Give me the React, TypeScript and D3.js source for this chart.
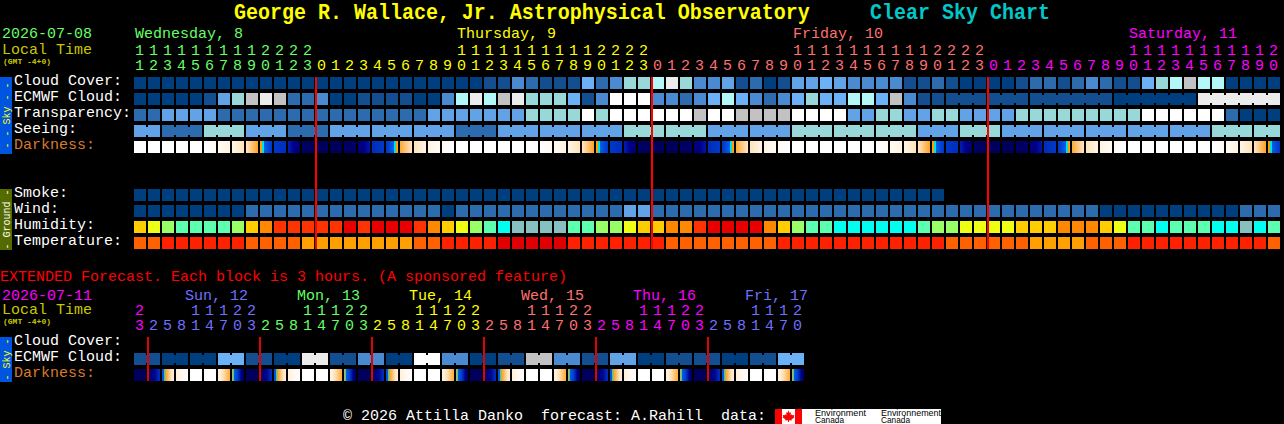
import React from "react";
import * as d3 from "d3";

const titleLeft = "George R. Wallace, Jr. Astrophysical Observatory";
const titleRight = "Clear Sky Chart";
const rowLabels = ["Cloud Cover:", "ECMWF Cloud:", "Transparency:", "Seeing:", "Darkness:"];
const groundLabels = ["Smoke:", "Wind:", "Humidity:", "Temperature:"];
const extLabels = ["Cloud Cover:", "ECMWF Cloud:", "Darkness:"];

const skyPalette = ["#003f7f", "#134f90", "#2c6bad", "#4a8ad0", "#62a2e6", "#6cb0f5", "#98d8d8", "#b3f8f8", "#c2c2c2", "#ececec", "#ffffff"];
const humidityPalette = ["#e80000", "#ff3300", "#ff8800", "#ffcc00", "#eeff14", "#99ff66", "#5cffb0", "#00ffee", "#88c0c0"];
const tempPalette = ["#e00000", "#ff2000", "#ff6000", "#ffa000"];

const hours = [11,12,13,14,15,16,17,18,19,20,21,22,23,
  0,1,2,3,4,5,6,7,8,9,10,11,12,13,14,15,16,17,18,19,20,21,22,23,
  0,1,2,3,4,5,6,7,8,9,10,11,12,13,14,15,16,17,18,19,20,21,22,23,
  0,1,2,3,4,5,6,7,8,9,10,11,12,13,14,15,16,17,18,19,20];

const cloudCover = [0,0,0,0,0,0,0,0,0,0,0,0,0,0,0,0,0,0,0,0,0,0,0,0,0,1,1,3,2,1,1,1,5,2,3,6,6,7,9,6,3,3,4,1,2,0,1,4,4,5,4,3,3,3,3,1,1,2,1,0,0,0,0,1,2,2,1,2,3,2,1,1,5,6,7,8,7,7,0,0,0,0];
const ecmwfCloud = [0,0,0,0,0,1,4,6,8,9,8,2,2,3,0,0,1,1,1,1,0,0,3,7,9,7,8,9,6,6,6,5,1,3,10,10,10,3,3,2,3,5,7,5,3,2,3,5,6,5,5,7,7,5,8,3,1,1,1,1,1,1,1,1,1,1,1,1,1,1,0,0,0,0,0,0,9,9,9,9,9,9];
const ecmwfRuns = [1,1,1,1,1,1,1,1,1,1,1,1,1,1,1,1,1,1,1,1,1,1,1,1,1,1,1,1,1,1,1,1,1,1,1,1,1,1,1,1,1,1,1,1,1,1,1,1,1,1,1,1,1,1,1,1,1,1,3,3,6,6,6];
const transparency = [2,2,4,4,4,4,2,2,2,2,2,2,2,2,2,2,2,2,2,2,2,4,4,4,4,4,4,4,6,6,6,6,10,6,10,10,10,10,10,10,8,10,10,8,8,8,8,10,10,10,10,4,4,6,6,4,4,6,6,4,4,4,4,6,6,6,6,6,6,6,6,6,10,10,10,10,10,10,2,0,0,0];
const seeing = [4,4,2,2,2,6,6,6,4,4,4,2,2,2,4,4,4,4,4,4,4,4,4,2,2,2,4,4,4,4,4,4,4,4,4,6,6,6,6,6,6,4,4,4,4,4,4,6,6,6,6,6,6,6,6,6,4,4,4,6,6,6,4,4,4,4,4,4,4,4,4,4,4,4,4,4,4,6,6,6,6,6];
const seeingRuns = [2,3,3,3,3,3,3,3,3,3,3,3,3,3,3,3,3,3,3,3,3,3,3,3,3,3,3,2];
const smoke = [0,0,0,0,0,0,0,0,0,0,0,0,0,0,0,0,0,0,0,0,0,0,0,0,0,0,0,0,0,0,0,0,0,0,0,0,0,0,0,0,0,0,0,0,0,0,0,0,0,0,0,0,0,0,0,0,0,0];
const wind = [0,0,0,0,0,0,0,0,2,2,2,2,2,2,2,2,2,2,2,2,2,2,0,2,2,2,2,2,2,2,2,2,2,2,2,4,4,2,2,2,2,2,2,2,2,2,2,2,2,2,2,2,2,2,2,2,2,2,2,2,2,2,2,2,2,2,2,2,2,0,0,0,0,0,0,0,0,0,0,2,2,2];
const humidity = [3,4,5,6,6,6,6,5,3,2,1,1,1,1,1,0,1,0,0,0,1,2,3,4,5,6,7,8,8,8,8,6,6,5,5,4,3,3,2,2,1,0,0,0,0,2,3,5,6,6,7,7,7,7,7,7,6,5,5,4,4,4,4,3,3,3,2,2,2,3,4,6,6,7,6,6,6,7,7,8,7,6];
const temperature = [2,2,1,1,1,1,1,1,2,2,2,2,3,3,3,3,3,3,3,3,2,2,1,1,1,1,0,0,0,0,0,1,1,1,1,1,1,1,2,2,2,2,2,2,2,2,1,1,1,1,1,1,1,1,1,1,1,1,2,2,2,2,2,2,3,3,3,3,2,2,2,1,1,1,1,1,1,1,1,1,1,2];

// darkness level at the start and at the end of each block, one day's course from 11h on
const darkStart = [0,0,0,0,0,0,0.5,1,2,4,6,6.5,7.7,8,8,7.8,7.5,6.2,6,3.6,2,1,0.4,0];
const darkEnd   = [0,0,0,0,0,0.5,1,2,3.8,6,6.2,7.6,8,8,8,7.7,6.6,6,4,2,1,0.4,0,0];

const extHours = [23,2,5,8,11,14,17,20,23,2,5,8,11,14,17,20,23,2,5,8,11,14,17,20,23,2,5,8,11,14,17,20,23,2,5,8,11,14,17,20,23,2,5,8,11,14,17,20];
const extEcmwf = [1,1,0,0,0,0,5,5,1,1,0,0,9,9,1,1,3,3,0,0,10,10,3,3,0,0,1,1,8,8,3,3,1,1,4,4,0,0,1,1,1,1,0,0,1,1,5,5];
const extRuns = [2,2,2,2,2,2,2,2,2,2,2,2,2,2,2,2,2,2,2,2,2,2,2,2];
const extDarkStart = [8,7.8,5.2,1.2,0,0,1,4.1];
const extDarkEnd   = [8,6.2,1.2,0,0,0,3.6,7.8];

const green = "#66ff66", yellow = "#ffff00", salmon = "#ff7070", magenta = "#ff00ff", blue = "#7070ff";
const mainDays = [
  { label: "Wednesday, 8", start: 0, color: green },
  { label: "Thursday, 9", start: 23, color: yellow },
  { label: "Friday, 10", start: 47, color: salmon },
  { label: "Saturday, 11", start: 71, color: magenta },
];
const extDays = [
  { label: "Sun, 12", start: 4, color: blue },
  { label: "Mon, 13", start: 12, color: green },
  { label: "Tue, 14", start: 20, color: yellow },
  { label: "Wed, 15", start: 28, color: salmon },
  { label: "Thu, 16", start: 36, color: magenta },
  { label: "Fri, 17", start: 44, color: blue },
];
const mainHourColors = [green, yellow, salmon, magenta];
const extHourColors = [magenta, blue, green, yellow, salmon, magenta, blue];

const BLOCK = 12, PITCH = 14;
const x = d3.scaleLinear().domain([0, 82]).range([134, 134 + 82 * PITCH]);
const rowY = d3.scaleLinear().domain([0, 1]).range([0, 16]);
const darkness = d3.scaleLinear<string>()
  .domain([0, 1, 2, 3, 4.2, 4.25, 4.6, 4.65, 6, 7, 7.7, 8])
  .range(["#ffffff", "#fff4e4", "#ffe4bc", "#ffc070", "#ff9a00", "#00e0e0", "#00e0e0", "#0060e8", "#0038c8", "#000090", "#000066", "#00005a"])
  .clamp(true);

const FONT = "'Liberation Mono', monospace";
const SIZE = 15;

function Txt({ x: tx, y, fill, children, size = SIZE, weight = "normal" as any, anchor = "start" as any, transform }: any) {
  return <text x={tx} y={y} fill={fill} fontFamily={FONT} fontSize={size} fontWeight={weight} textAnchor={anchor} transform={transform} xmlSpace="preserve" style={{ whiteSpace: "pre" }}>{children}</text>;
}

function Blocks({ values, top, palette, runs }: { values: number[]; top: number; palette: string[]; runs?: number[] }) {
  const ends = new Set<number>();
  if (runs) d3.cumsum(runs).forEach((v) => ends.add(v));
  return (
    <g shapeRendering="crispEdges">
      {values.map((v, i) => (
        <React.Fragment key={i}>
          <rect x={x(i)} y={top} width={BLOCK} height={BLOCK} fill={palette[v]} />
          {runs && !ends.has(i + 1) && i + 1 < values.length && values[i + 1] === v ? (
            <rect x={x(i) + BLOCK} y={top + 2} width={PITCH - BLOCK} height={BLOCK - 4} fill={palette[v]} />
          ) : null}
        </React.Fragment>
      ))}
    </g>
  );
}

function DarkBlocks({ n, top, starts, ends }: { n: number; top: number; starts: number[]; ends: number[] }) {
  const stripes = d3.range(BLOCK);
  return (
    <g shapeRendering="crispEdges">
      {d3.range(n).map((i) => {
        const a = starts[i % starts.length], b = ends[i % ends.length];
        return stripes.map((s) => (
          <rect key={i + "-" + s} x={x(i) + s} y={top} width={1} height={BLOCK} fill={darkness(a + ((b - a) * s) / (BLOCK - 1))} />
        ));
      })}
    </g>
  );
}

function HourDigits({ hrs, dayColors, tensY, unitsY }: { hrs: number[]; dayColors: string[]; tensY: number; unitsY: number }) {
  let day = 0;
  return (
    <g>
      {hrs.map((h, i) => {
        if (i > 0 && h < hrs[i - 1]) day += 1;
        const c = dayColors[day];
        return (
          <React.Fragment key={i}>
            {h >= 10 ? <Txt x={x(i) + 1} y={tensY} fill={c}>{String(Math.floor(h / 10))}</Txt> : null}
            <Txt x={x(i) + 1} y={unitsY} fill={c}>{String(h % 10)}</Txt>
          </React.Fragment>
        );
      })}
    </g>
  );
}

function SideBar({ top, bottom, fill, color, label }: any) {
  const cy = (top + bottom) / 2;
  return (
    <g>
      <rect x={0} y={top} width={12} height={bottom - top} fill={fill} shapeRendering="crispEdges" />
      <Txt x={0} y={0} fill={color} size={10} anchor="middle" transform={`translate(9.5,${cy}) rotate(-90)`}>{label}</Txt>
    </g>
  );
}

const MAIN_TOP = 77, GROUND_TOP = 189, EXT_TOP = 337;

export default function App() {
  const midnights = d3.range(82).filter((i) => hours[i] === 0);
  const extMidnights = d3.range(48).filter((i) => extHours[i] === 2);
  const labelColor = "#ffffff", darkColor = "#d87a30", timeColor = "#c8c800";
  return (
    <svg width={1284} height={424} style={{ position: "absolute", left: 0, top: 0, background: "#000", display: "block" }}>
      <Txt x={0} y={0} fill={yellow} size={20} weight="bold" transform="translate(234,19) scale(1,1.12)">{titleLeft}</Txt>
      <Txt x={0} y={0} fill="#00c8c8" size={20} weight="bold" transform="translate(870,19) scale(1,1.12)">{titleRight}</Txt>

      <Txt x={2} y={38} fill={green}>2026-07-08</Txt>
      <Txt x={2} y={54} fill={timeColor}>Local Time</Txt>
      <Txt x={3} y={64} fill={timeColor} size={8} weight="bold">(GMT -4+0)</Txt>
      {mainDays.map((d) => <Txt key={d.label} x={x(d.start) + 1} y={38} fill={d.color}>{d.label}</Txt>)}
      <HourDigits hrs={hours} dayColors={mainHourColors} tensY={55} unitsY={70} />

      <SideBar top={77} bottom={154} fill="#0055e0" color={yellow} label="- - Sky - -" />
      <SideBar top={189} bottom={250} fill="#556b00" color="#ffffff" label="- Ground -" />
      <SideBar top={337} bottom={382} fill="#0055e0" color={yellow} label="- Sky -" />

      {rowLabels.map((l, k) => <Txt key={l} x={14} y={MAIN_TOP + rowY(k) + 8} fill={k === 4 ? darkColor : labelColor}>{l}</Txt>)}
      {groundLabels.map((l, k) => <Txt key={l} x={14} y={GROUND_TOP + rowY(k) + 8} fill={labelColor}>{l}</Txt>)}

      <Blocks values={cloudCover} top={MAIN_TOP + rowY(0)} palette={skyPalette} />
      <Blocks values={ecmwfCloud} top={MAIN_TOP + rowY(1)} palette={skyPalette} runs={ecmwfRuns} />
      <Blocks values={transparency} top={MAIN_TOP + rowY(2)} palette={skyPalette} />
      <Blocks values={seeing} top={MAIN_TOP + rowY(3)} palette={skyPalette} runs={seeingRuns} />
      <DarkBlocks n={82} top={MAIN_TOP + rowY(4)} starts={darkStart} ends={darkEnd} />

      <Blocks values={smoke} top={GROUND_TOP + rowY(0)} palette={skyPalette} />
      <Blocks values={wind} top={GROUND_TOP + rowY(1)} palette={skyPalette} />
      <Blocks values={humidity} top={GROUND_TOP + rowY(2)} palette={humidityPalette} />
      <Blocks values={temperature} top={GROUND_TOP + rowY(3)} palette={tempPalette} />

      {midnights.map((i) => (
        <rect key={i} x={x(i) - 1} y={77} width={2} height={172} fill="#ff0000" shapeRendering="crispEdges" />
      ))}

      <Txt x={0} y={281} fill="#ff0000">EXTENDED Forecast. Each block is 3 hours. (A sponsored feature)</Txt>

      <Txt x={2} y={300} fill={magenta}>2026-07-11</Txt>
      <Txt x={2} y={314} fill={timeColor}>Local Time</Txt>
      <Txt x={3} y={324} fill={timeColor} size={8} weight="bold">(GMT -4+0)</Txt>
      {extDays.map((d) => <Txt key={d.label} x={x(d.start) - 5} y={300} fill={d.color}>{d.label}</Txt>)}
      <HourDigits hrs={extHours} dayColors={extHourColors} tensY={315} unitsY={330} />

      {extLabels.map((l, k) => <Txt key={l} x={14} y={EXT_TOP + rowY(k) + 8} fill={k === 2 ? darkColor : labelColor}>{l}</Txt>)}
      <Blocks values={extEcmwf} top={EXT_TOP + rowY(1)} palette={skyPalette} runs={extRuns} />
      <DarkBlocks n={48} top={EXT_TOP + rowY(2)} starts={extDarkStart} ends={extDarkEnd} />
      {extMidnights.map((i) => (
        <rect key={i} x={x(i) - 1} y={337} width={2} height={44} fill="#e60000" shapeRendering="crispEdges" />
      ))}

      <Txt x={343} y={420} fill="#ffffff">{"\u00a9 2026 Attilla Danko  forecast: A.Rahill  data:"}</Txt>
      <g shapeRendering="crispEdges">
        <rect x={775} y={409} width={166} height={15} fill="#ffffff" />
        <rect x={775} y={409} width={7} height={15} fill="#ff0000" />
        <rect x={795} y={409} width={7} height={15} fill="#ff0000" />
      </g>
      <path d="M788.5 410.5 l1.2 2.4 1.3 -.6 -.5 3 1.4 -1 .4 1 2 -.3 -.5 1.8 .7 .5 -3 2.3 .3 1 -2.8 -.3 0 1.7 -1 0 0 -1.7 -2.8 .3 .3 -1 -3 -2.3 .7 -.5 -.5 -1.8 2 .3 .4 -1 1.4 1 -.5 -3 1.3 .6z" fill="#ff0000" />
      <g fontFamily="'Liberation Sans', sans-serif" fontSize={8.5} fill="#000">
        <text x={815} y={416} textLength={51} lengthAdjust="spacingAndGlyphs">Environment</text>
        <text x={815} y={423} textLength={29} lengthAdjust="spacingAndGlyphs">Canada</text>
        <text x={881} y={416} textLength={60} lengthAdjust="spacingAndGlyphs">Environnement</text>
        <text x={881} y={423} textLength={29} lengthAdjust="spacingAndGlyphs">Canada</text>
      </g>
    </svg>
  );
}
